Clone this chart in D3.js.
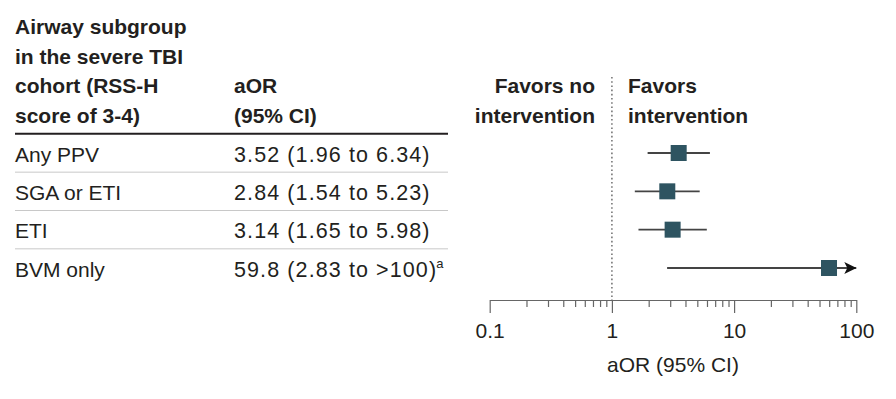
<!DOCTYPE html>
<html>
<head>
<meta charset="utf-8">
<script src="https://cdn.jsdelivr.net/npm/d3@7"></script>
<style>
  body { margin: 0; background: #fff; }
  svg text { font-family: "Liberation Sans", Arial, sans-serif; fill: #231f20; }
</style>
</head>
<body>
<script>
// Data
const groups = ["Any PPV", "SGA or ETI", "ETI", "BVM only"];
const aor = [3.52, 2.84, 3.14, 59.8];
const lower = [1.96, 1.54, 1.65, 2.83];
const upper = [6.34, 5.23, 5.98, 100];
const upperLabels = ["6.34", "5.23", "5.98", ">100"];
const openEnded = [false, false, false, true];
const footnotes = ["", "", "", "a"];
const majorTicks = [0.1, 1, 10, 100];
const headerLines = ["Airway subgroup", "in the severe TBI", "cohort (RSS-H", "score of 3-4)"];

const w = 896, h = 399;
const svg = d3.select("body").append("svg").attr("width", w).attr("height", h);

// scales
const x = d3.scaleLog().domain([0.1, 100]).range([489.7, 856.3]);
const y = d3.scalePoint().domain(groups).range([153, 268]);
const step = y.step();

const headFont = "21px";
const lineGap = 29.6;

// header text
headerLines.forEach(function (t, i) {
  svg.append("text").attr("x", 15).attr("y", 34 + i * lineGap)
    .style("font-weight", "bold").style("font-size", headFont).text(t);
});
svg.append("text").attr("x", 234).attr("y", 34 + 2 * lineGap)
  .style("font-weight", "bold").style("font-size", headFont).text("aOR");
svg.append("text").attr("x", 234).attr("y", 34 + 3 * lineGap)
  .style("font-weight", "bold").style("font-size", headFont).text("(95% CI)");

// favors labels
svg.append("text").attr("x", 595).attr("y", 34 + 2 * lineGap).attr("text-anchor", "end")
  .style("font-weight", "bold").style("font-size", headFont).text("Favors no");
svg.append("text").attr("x", 595).attr("y", 34 + 3 * lineGap).attr("text-anchor", "end")
  .style("font-weight", "bold").style("font-size", headFont).text("intervention");
svg.append("text").attr("x", 628).attr("y", 34 + 2 * lineGap)
  .style("font-weight", "bold").style("font-size", headFont).text("Favors");
svg.append("text").attr("x", 628).attr("y", 34 + 3 * lineGap)
  .style("font-weight", "bold").style("font-size", headFont).text("intervention");

// table lines
svg.append("line").attr("x1", 15).attr("x2", 448)
  .attr("y1", y(groups[0]) - step / 2).attr("y2", y(groups[0]) - step / 2)
  .attr("stroke", "#231f20").attr("stroke-width", 2);
svg.selectAll(".sep").data(groups.slice(1)).enter().append("line")
  .attr("class", "sep")
  .attr("x1", 15).attr("x2", 448)
  .attr("y1", d => y(d) - step / 2).attr("y2", d => y(d) - step / 2)
  .attr("stroke", "#c8c8c8").attr("stroke-width", 1);

// row labels
svg.selectAll(".lbl").data(groups).enter().append("text")
  .attr("class", "lbl").attr("x", 15).attr("y", d => y(d) + 8.5)
  .style("font-size", "21px").text(d => d);

const est = svg.selectAll(".est").data(groups).enter().append("text")
  .attr("class", "est").attr("x", 234).attr("y", d => y(d) + 8.5)
  .style("font-size", "21.5px").style("letter-spacing", "1.1px");
est.append("tspan").text((d, i) => aor[i].toFixed(i === 3 ? 1 : 2) + " (" + lower[i].toFixed(2) + " to " + upperLabels[i] + ")");
est.append("tspan").attr("dy", -9).attr("dx", -1).style("font-size", "13px").style("letter-spacing", "0px")
  .text((d, i) => footnotes[i]);

// reference line at 1
svg.append("line").attr("x1", x(1)).attr("x2", x(1)).attr("y1", 77).attr("y2", 300)
  .attr("stroke", "#777").attr("stroke-width", 1.6).attr("stroke-dasharray", "1.6,2.6");

// axis
const minorTicks = [];
[0.1, 1, 10].forEach(function (b) {
  for (let k = 2; k <= 9; k++) minorTicks.push(b * k);
});
const gMinor = svg.append("g").attr("transform", "translate(0,300)")
  .call(d3.axisBottom(x).tickValues(minorTicks).tickSize(7).tickSizeOuter(0).tickFormat(""));
const gMajor = svg.append("g").attr("transform", "translate(0,300)")
  .call(d3.axisBottom(x).tickValues(majorTicks).tickSize(13).tickSizeOuter(0).tickPadding(10)
    .tickFormat(d => d3.format("~g")(d)));
[gMinor, gMajor].forEach(function (g) {
  g.selectAll("path, line").attr("stroke", "#666").attr("stroke-width", 1.2);
});
gMajor.selectAll("text").style("font-size", "21px").attr("fill", "#231f20")
  .style("font-family", "'Liberation Sans', Arial, sans-serif");

svg.append("text").attr("x", (x(1) + x(10)) / 2).attr("y", 372).attr("text-anchor", "middle")
  .style("font-size", "21px").text("aOR (95% CI)");

// CI lines
svg.append("defs").append("marker").attr("id", "arrow")
  .attr("viewBox", "0 0 12 12").attr("refX", 12).attr("refY", 6)
  .attr("markerWidth", 12).attr("markerHeight", 12).attr("markerUnits", "userSpaceOnUse")
  .attr("orient", "auto")
  .append("path").attr("d", "M0,0 L12,6 L0,12 L3,6 Z").attr("fill", "#111");

svg.selectAll(".ci").data(groups).enter().append("line")
  .attr("class", "ci")
  .attr("x1", (d, i) => x(lower[i])).attr("x2", (d, i) => x(upper[i]))
  .attr("y1", d => y(d)).attr("y2", d => y(d))
  .attr("stroke", "#444").attr("stroke-width", 1.8)
  .attr("marker-end", (d, i) => openEnded[i] ? "url(#arrow)" : null);

// point estimates
const sq = 16;
svg.selectAll(".pt").data(groups).enter().append("rect")
  .attr("class", "pt")
  .attr("x", (d, i) => x(aor[i]) - sq / 2).attr("y", d => y(d) - sq / 2)
  .attr("width", sq).attr("height", sq)
  .attr("fill", "#2e5461");
</script>
</body>
</html>
